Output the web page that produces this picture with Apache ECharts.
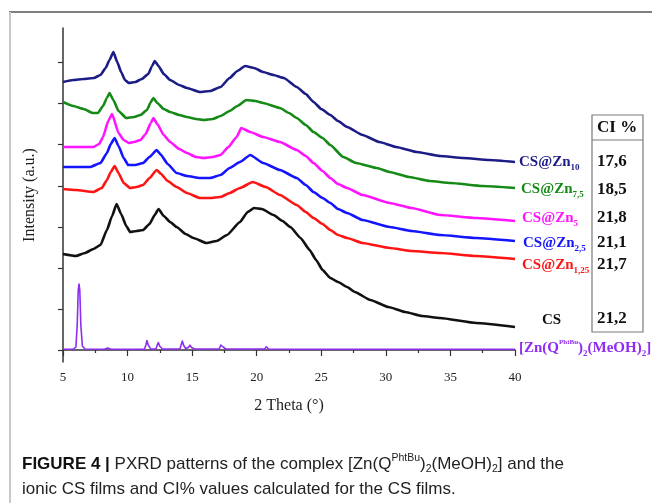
<!DOCTYPE html>
<html>
<head>
<meta charset="utf-8">
<script src="https://cdn.jsdelivr.net/npm/echarts@6/dist/echarts.min.js"></script>
<style>
html,body{margin:0;padding:0;background:#fff;}
#chart{width:652px;height:503px;}
</style>
</head>
<body>
<div id="chart"></div>
<script>
// 2 Theta (deg), intensity (a.u., stacked offsets as drawn)
const csZn10 = [[5,268],[5.8,270],[6.6,271],[7.4,272],[7.9,275],[8.3,282],[8.6,290],[8.9,298],[9.2,288],[9.5,278],[9.8,270],[10.1,267],[10.6,268],[11.1,271],[11.6,276],[11.9,284],[12.1,289],[12.4,284],[12.8,276],[13.3,270],[14,265],[14.6,262],[15.6,258],[16.4,259],[17.2,263],[17.9,272],[18.5,279],[19.1,284],[19.8,282],[20.5,278],[21.3,275],[22.1,272],[23.1,263],[23.8,256],[24.4,248],[25,241],[25.7,235],[26.3,229],[27,223],[28.2,215],[29.5,208],[30.8,203],[32.4,198],[34.2,194],[36,192],[38,190],[40,188]];
const csZn75 = [[5,248],[5.8,244],[6.6,241],[7.3,237],[7.7,237],[8.1,244],[8.4,252],[8.6,257],[8.9,250],[9.3,239],[9.9,232],[10.5,233],[11,235],[11.5,240],[11.8,248],[12,252],[12.3,247],[12.8,241],[13.3,238],[14,235],[14.6,233],[15.3,231],[15.9,230],[16.6,231],[17.2,234],[17.9,239],[18.5,244],[19.2,250],[19.9,249],[20.5,247],[21.8,242],[22.5,237],[23.1,232],[23.8,225],[24.4,218],[25.1,212],[25.7,205],[26.7,193],[27.7,187],[29.3,182],[30.3,178],[31.8,173],[33.4,169],[35,167],[37.5,164],[40,162]];
const csZn5 = [[5,203],[6,203],[7.35,203],[7.8,206],[8.1,213],[8.5,229],[8.8,236],[9.3,217],[9.7,210],[10.1,207],[10.5,208],[11,210],[11.4,216],[11.8,227],[12,232],[12.3,226],[12.8,215],[13.3,208],[14,201],[14.6,197],[15.3,193],[15.9,192],[16.6,193],[17.2,195],[17.8,203],[18.45,213],[18.8,222],[19.5,218],[20.5,213],[21.8,208],[23.1,200],[23.8,194],[24.4,187],[25.1,179],[25.7,172],[26.3,166],[27,162],[28.2,155],[30.3,147],[32,142],[34.2,135],[37,132],[40,129]];
const csZn25 = [[5,183],[6,183],[7.1,183],[7.9,187],[8.4,197],[8.7,206],[9,212],[9.3,204],[9.7,192],[10.05,185],[10.6,185],[11.2,187],[11.7,193],[12.25,200],[12.6,195],[13.1,186],[13.8,177],[14.6,174],[15.6,172],[16.4,172],[17.2,175],[17.9,182],[18.7,188],[19.5,195],[20.5,187],[21.8,180],[23.1,172],[23.8,165],[24.4,158],[25.1,152],[25.7,147],[26.3,141],[27,137],[28.2,130],[30.3,123],[32,119],[34.2,115],[37,112],[40,109]];
const csZn125 = [[5,161],[6,160],[7.35,158],[8,162],[8.4,170],[8.7,178],[9,184],[9.3,177],[9.7,167],[10.2,162],[10.7,163],[11.2,165],[11.7,172],[12.25,180],[12.6,176],[13.1,169],[13.8,163],[14.6,157],[15.6,152],[16.4,152],[17.2,153],[17.9,157],[18.7,162],[19.7,168],[20.7,163],[21.8,155],[23.1,145],[23.8,138],[24.4,132],[25.1,126],[25.7,120],[26.3,115],[27,112],[28.2,107],[30.3,102],[32,99],[34.2,97],[37,94],[40,91]];
const csFilm = [[5,96],[6,94],[6.7,97],[7.35,101],[7.9,105],[8.4,120],[8.8,134],[9.15,146],[9.5,136],[9.9,124],[10.2,118],[10.7,119],[11.2,120],[11.7,126],[12.1,135],[12.4,141],[12.8,134],[13.3,128],[13.8,123],[14.5,116],[15.1,112],[16.1,107],[16.9,109],[17.7,115],[18.7,128],[19.3,138],[19.8,142],[20.4,141],[21.3,135],[22,129],[22.6,123],[23.4,112],[24.1,100],[24.6,90],[25.1,80],[25.7,72],[26.3,68],[27,63],[27.6,58],[28.8,50],[30.2,43],[31.5,38],[32.8,34],[34.2,32],[37,27],[40,23]];
const znComplex = [[5,0.7],[5.8,0.9],[6.0,3],[6.1,25],[6.18,60],[6.24,66],[6.3,60],[6.38,25],[6.5,4],[6.7,1],[8.2,0.8],[8.46,2],[8.7,0.8],[11.3,0.8],[11.42,5],[11.5,9.5],[11.6,5],[11.8,0.9],[12.2,1],[12.3,5],[12.38,7.5],[12.48,4],[12.7,1],[14.05,1],[14.17,6],[14.24,9],[14.33,5],[14.5,1.5],[14.7,2.5],[14.83,4.8],[14.95,2.5],[15.2,1],[17.1,1],[17.22,5],[17.29,6.5],[17.4,3],[17.6,1],[19.35,1],[19.5,2.8],[19.65,1],[20.6,1],[20.75,3.2],[20.9,1],[23.05,0.8],[23.2,1.8],[23.35,0.8],[26,0.7],[40,0.7]];

const xTicks = [5,10,15,20,25,30,35,40];
const yTickValues = [0,41,82,123,164,206,247,288];
const ciHeader = 'CI %';
const ciValues = ['17,6','18,5','21,8','21,1','21,7','21,2'];

const serif = '"Liberation Serif","Times New Roman",serif';
const chart = echarts.init(document.getElementById('chart'));

function lab(color, main, sub) {
  return {
    show: true,
    formatter: sub ? '{m|' + main + '}{s|' + sub + '}' : '{m|' + main + '}',
    distance: 4,
    rich: {
      m: {fontFamily: serif, fontWeight: 'bold', fontSize: 15, color: color, lineHeight: 20},
      s: {fontFamily: serif, fontWeight: 'bold', fontSize: 9, color: color, verticalAlign: 'bottom', lineHeight: 9}
    }
  };
}
function mk(name, data, color, label, width, smooth, offset) {
  const l = label;
  if (offset) l.offset = offset;
  return {
    name: name, type: 'line', data: data, showSymbol: false, smooth: smooth, smoothMonotone: 'x',
    lineStyle: {color: color, width: width, join: 'round'}, itemStyle: {color: color},
    endLabel: l, silent: true, animation: false
  };
}

const purple = '#8f2cf2';
const purpleLabel = {
  show: true,
  distance: 4,
  formatter: '{m|[Zn(Q}{p|PhtBu}{m|)}{s|2}{m|(MeOH)}{s|2}{m|]}',
  rich: {
    m: {fontFamily: serif, fontWeight: 'bold', fontSize: 15, color: purple, lineHeight: 20},
    p: {fontFamily: serif, fontWeight: 'bold', fontSize: 7, color: purple, verticalAlign: 'top', lineHeight: 8},
    s: {fontFamily: serif, fontWeight: 'bold', fontSize: 9, color: purple, verticalAlign: 'bottom', lineHeight: 9}
  }
};

const series = [
  mk('CS@Zn10', csZn10, '#1c1c86', lab('#1c1c86', 'CS@Zn', '10'), 2.6, 0.15, [0, 0]),
  mk('CS@Zn7,5', csZn75, '#168a16', lab('#168a16', 'CS@Zn', '7,5'), 2.6, 0.15, [2, 1]),
  mk('CS@Zn5', csZn5, '#ff14ff', lab('#ff14ff', 'CS@Zn', '5'), 2.6, 0.15, [3, -3]),
  mk('CS@Zn2,5', csZn25, '#1414ff', lab('#1414ff', 'CS@Zn', '2,5'), 2.6, 0.15, [4, 2]),
  mk('CS@Zn1,25', csZn125, '#ff1414', lab('#ff1414', 'CS@Zn', '1,25'), 2.6, 0.15, [3, 6]),
  mk('CS', csFilm, '#111111', lab('#111111', 'CS', ''), 2.6, 0.15, [23, -7]),
  mk('[Zn(QPhtBu)2(MeOH)2]', znComplex, purple, purpleLabel, 1.6, false, [0, -1])
];

const tableX = 597;
const rowY = [162, 190, 218, 243, 265, 319];
const graphic = [
  {type: 'line', shape: {x1: 9, y1: 12, x2: 652, y2: 12}, style: {stroke: '#555', lineWidth: 1.5}},
  {type: 'line', shape: {x1: 10, y1: 12, x2: 10, y2: 503}, style: {stroke: '#c9c9c9', lineWidth: 2}},
  {type: 'rect', shape: {x: 592, y: 115, width: 51, height: 217}, style: {stroke: '#7a7a7a', fill: 'none', lineWidth: 1.2}},
  {type: 'line', shape: {x1: 592, y1: 140, x2: 643, y2: 140}, style: {stroke: '#7a7a7a', lineWidth: 1.2}},
  {type: 'text', x: tableX, y: 128, style: {text: ciHeader, font: 'bold 17px ' + serif, fill: '#111', verticalAlign: 'middle'}}
];
ciValues.forEach(function (v, i) {
  graphic.push({type: 'text', x: tableX, y: rowY[i], style: {text: v, font: 'bold 17px ' + serif, fill: '#111', verticalAlign: 'middle'}});
});
const capFont = '"Liberation Sans","Arial",sans-serif';
graphic.push({
  type: 'text', x: 22, y: 464,
  style: {
    text: '{b|FIGURE 4 |}{n| PXRD patterns of the complex [Zn(Q}{p|PhtBu}{n|)}{s|2}{n|(MeOH)}{s|2}{n|] and the}',
    verticalAlign: 'middle',
    rich: {
      b: {fontFamily: capFont, fontWeight: 'bold', fontSize: 17, fill: '#111', lineHeight: 22},
      n: {fontFamily: capFont, fontSize: 17, fill: '#222', lineHeight: 22},
      p: {fontFamily: capFont, fontSize: 10.5, fill: '#222', verticalAlign: 'top', lineHeight: 10},
      s: {fontFamily: capFont, fontSize: 10.5, fill: '#222', verticalAlign: 'bottom', lineHeight: 10}
    }
  }
});
graphic.push({
  type: 'text', x: 22, y: 489,
  style: {text: 'ionic CS films and CI% values calculated for the CS films.', font: '17px ' + capFont, fill: '#222', verticalAlign: 'middle'}
});

chart.setOption({
  animation: false,
  backgroundColor: '#fff',
  grid: {left: 63, right: 137, top: 28, bottom: 141, containLabel: false},
  xAxis: {
    type: 'value', min: 5, max: 40, interval: 5,
    name: '2 Theta (°)', nameLocation: 'middle', nameGap: 36,
    nameTextStyle: {fontFamily: serif, fontSize: 16, color: '#222'},
    axisLine: {show: true, lineStyle: {color: '#333', width: 1.5}},
    axisTick: {show: true, inside: false, length: 6, lineStyle: {color: '#333', width: 1.2}},
    minorTick: {show: true, splitNumber: 2, length: 3, lineStyle: {color: '#333', width: 1.2}},
    axisLabel: {fontFamily: serif, fontSize: 13, color: '#222', margin: 9,
      customValues: xTicks},
    splitLine: {show: false}, minorSplitLine: {show: false}
  },
  yAxis: {
    type: 'value', min: -12, max: 322,
    name: 'Intensity (a.u.)', nameLocation: 'middle', nameGap: 25, nameRotate: 90,
    nameTextStyle: {fontFamily: serif, fontSize: 16, color: '#222'},
    axisLine: {show: true, lineStyle: {color: '#333', width: 1.5}},
    axisTick: {show: true, inside: false, length: 5, customValues: yTickValues, lineStyle: {color: '#333', width: 1.2}},
    axisLabel: {show: false},
    splitLine: {show: false}
  },
  series: series,
  graphic: graphic
});
</script>
</body>
</html>
